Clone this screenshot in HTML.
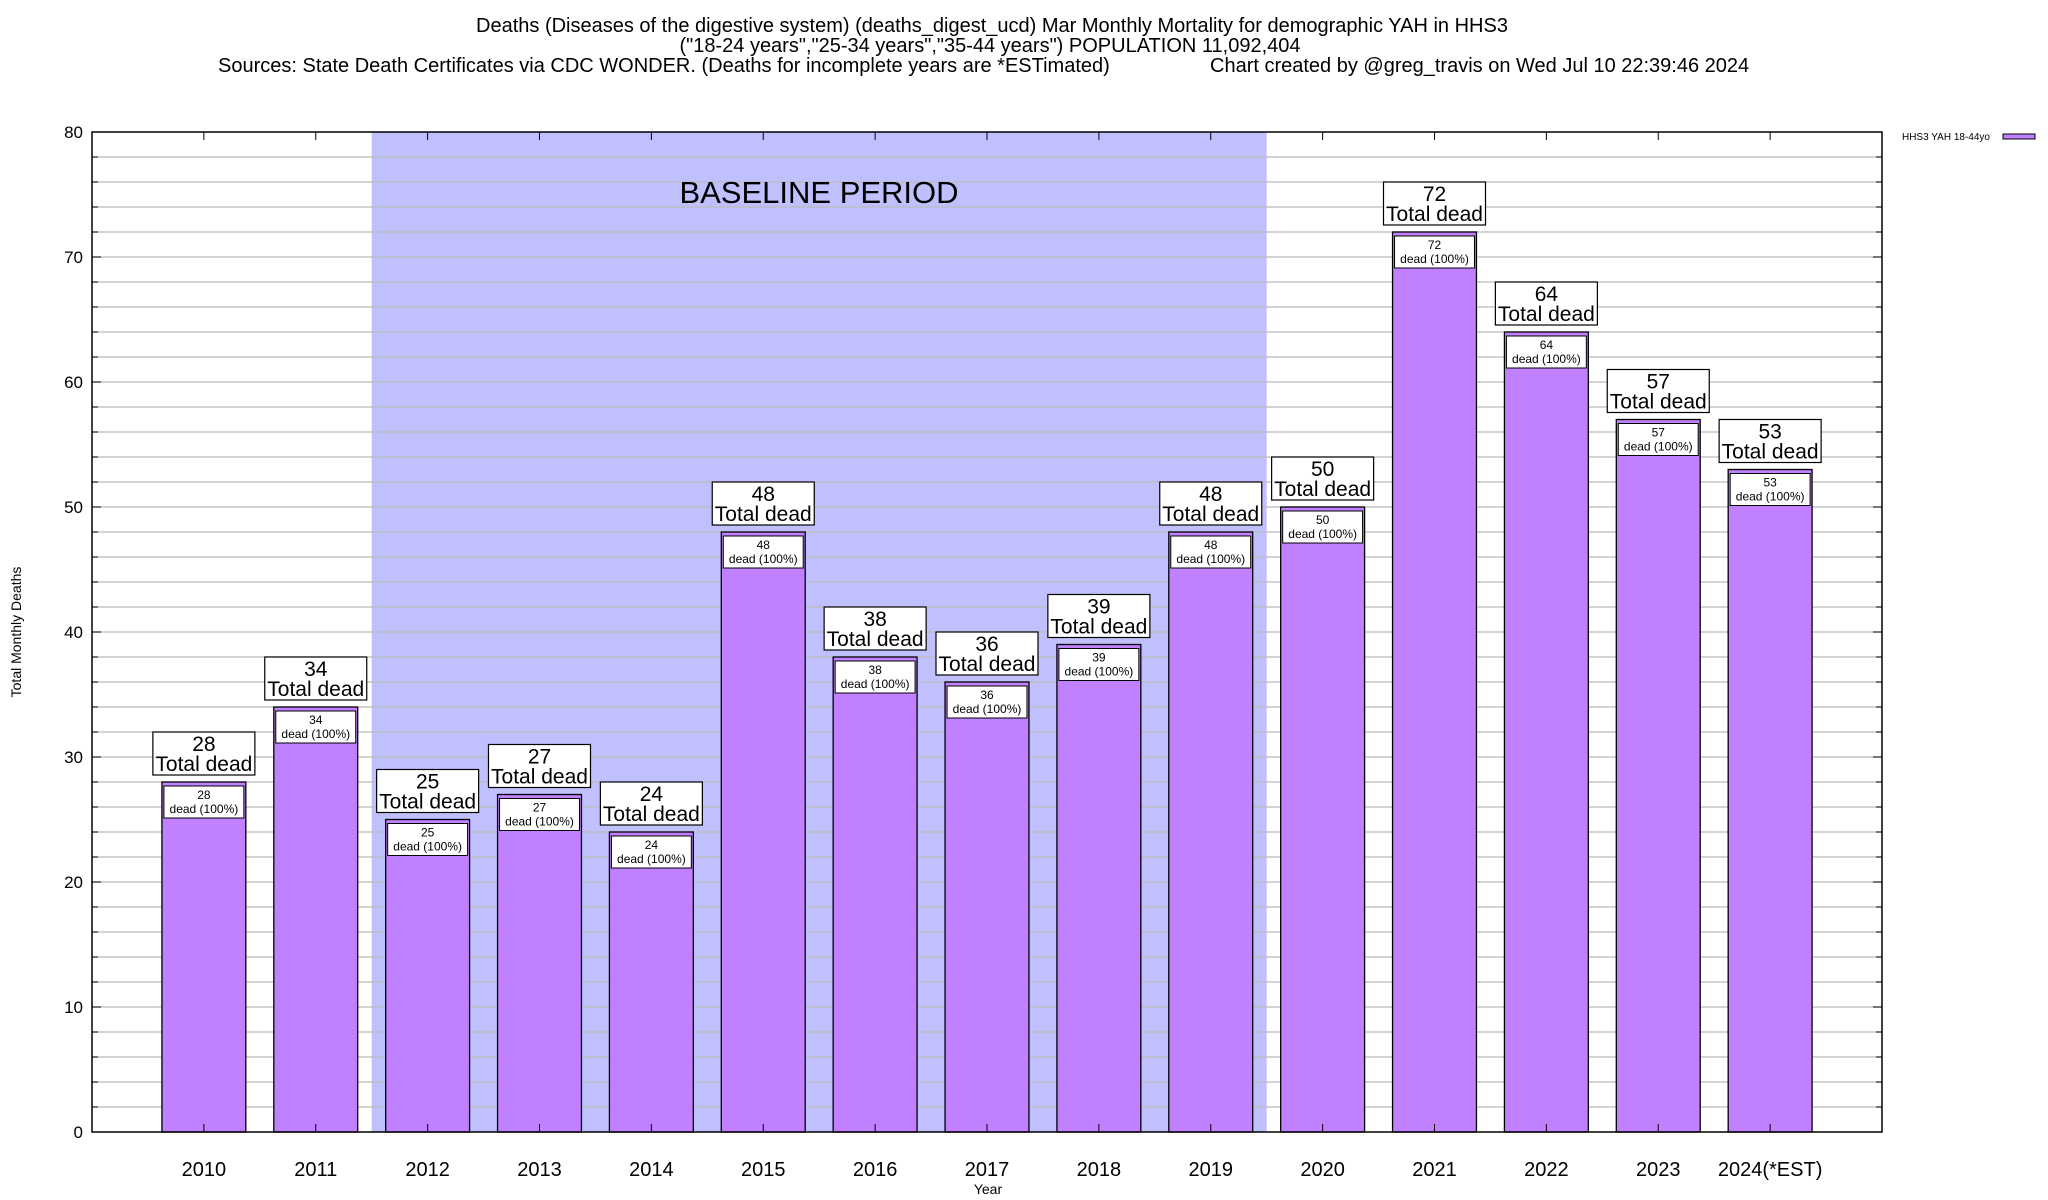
<!DOCTYPE html>
<html><head><meta charset="utf-8"><style>
body{margin:0;background:#fff;}
svg{display:block;font-family:"Liberation Sans",Arial,sans-serif;}
</style></head><body>
<svg id="chart" width="2048" height="1200" xmlns="http://www.w3.org/2000/svg">
<g font-size="20" fill="#000">
<text x="992" y="32" text-anchor="middle">Deaths (Diseases of the digestive system) (deaths_digest_ucd) Mar Monthly Mortality for demographic YAH in HHS3</text>
<text x="990" y="52" text-anchor="middle">("18-24 years","25-34 years","35-44 years") POPULATION 11,092,404</text>
<text x="218" y="72">Sources: State Death Certificates via CDC WONDER. (Deaths for incomplete years are *ESTimated)</text>
<text x="1210" y="72">Chart created by @greg_travis on Wed Jul 10 22:39:46 2024</text>
</g>
<text x="21" y="632" font-size="14" text-anchor="middle" transform="rotate(-90 21 632)">Total Monthly Deaths</text>
<text x="988" y="1194" font-size="14" text-anchor="middle">Year</text>
<g>
<text x="1990" y="140" font-size="10" text-anchor="end">HHS3 YAH 18-44yo</text>
<rect x="2003" y="134" width="32" height="5" fill="#c080ff" stroke="#000" stroke-width="1"/>
</g>
<g id="plot"></g>
</svg>
<script>
const years = ["2010","2011","2012","2013","2014","2015","2016","2017","2018","2019","2020","2021","2022","2023","2024(*EST)"];
const deaths = [28,34,25,27,24,48,38,36,39,48,50,72,64,57,53];
const yTicks = [0,10,20,30,40,50,60,70,80];
const baselineRange = [2011.5,2019.5];
const startYear = 2010;

const L=92,R=1882,T=132,B=1132;
const xMin=2009,xMax=2025,yMax=80;
const xs=v=>L+(v-xMin)/(xMax-xMin)*(R-L);
const ys=v=>B-v/yMax*(B-T);
const NS="http://www.w3.org/2000/svg";
const g=document.getElementById('plot');
function mk(tag,attrs,parent){const e=document.createElementNS(NS,tag);for(const k in attrs)e.setAttribute(k,attrs[k]);(parent||g).appendChild(e);return e;}

const sh=mk('rect',{x:xs(baselineRange[0]),y:T,width:xs(baselineRange[1])-xs(baselineRange[0]),height:B-T,fill:'#c0c0ff'});


for(let v=2;v<yMax;v+=2){
  const l=mk('line',{x1:L,x2:R,y1:ys(v),y2:ys(v),stroke:'#bbbbbb','stroke-width':1.3});
  
  
  mk('line',{x1:L,x2:L+6,y1:ys(v),y2:ys(v),stroke:'#000'});
  mk('line',{x1:R-6,x2:R,y1:ys(v),y2:ys(v),stroke:'#000'});
}
const bt=mk('text',{x:819,y:203,'font-size':31,'text-anchor':'middle'});
bt.textContent='BASELINE PERIOD';


yTicks.forEach(v=>{
  const t=mk('text',{x:83,y:ys(v)+6,'font-size':17,'text-anchor':'end'});
  t.textContent=v;
  
  
  mk('line',{x1:L,x2:L+9,y1:ys(v),y2:ys(v),stroke:'#000'});
  mk('line',{x1:R-9,x2:R,y1:ys(v),y2:ys(v),stroke:'#000'});
});
const bw=0.75;
deaths.forEach((d,i)=>{
  const xc=startYear+i;
  const x0=xs(xc-bw/2),w=xs(xc+bw/2)-x0,cx=xs(xc);
  const bar=mk('rect',{x:x0,y:ys(d),width:w,height:B-ys(d),fill:'#c080ff',stroke:'#000','stroke-width':1.3});
  
  
  mk('line',{x1:cx,x2:cx,y1:T,y2:T+8,stroke:'#000'});
  mk('line',{x1:cx,x2:cx,y1:B-8,y2:B,stroke:'#000'});
  const ib=mk('rect',{x:x0+2,y:ys(d)+4,width:w-4,height:32,fill:'#fff',stroke:'#000','stroke-width':1});
  
  
  const t1=mk('text',{x:cx,y:ys(d)+17,'font-size':12,'text-anchor':'middle'});t1.textContent=d;
  const t2=mk('text',{x:cx,y:ys(d)+31,'font-size':12,'text-anchor':'middle'});t2.textContent='dead (100%)';
  const tb=mk('rect',{x:cx-51,y:ys(d)-50,width:102,height:43,fill:'#fff',stroke:'#000','stroke-width':1.2});
  
  
  const t3=mk('text',{x:cx,y:ys(d)-31,'font-size':21,'text-anchor':'middle'});t3.textContent=d;
  const t4=mk('text',{x:cx,y:ys(d)-11,'font-size':21,'text-anchor':'middle'});t4.textContent='Total dead';
  const yl=mk('text',{x:cx,y:1176,'font-size':20,'text-anchor':'middle'});
  yl.textContent=years[i];
  
  
});
const fr=mk('rect',{x:L,y:T,width:R-L,height:B-T,fill:'none',stroke:'#000','stroke-width':1.5});


</script>
</body></html>
